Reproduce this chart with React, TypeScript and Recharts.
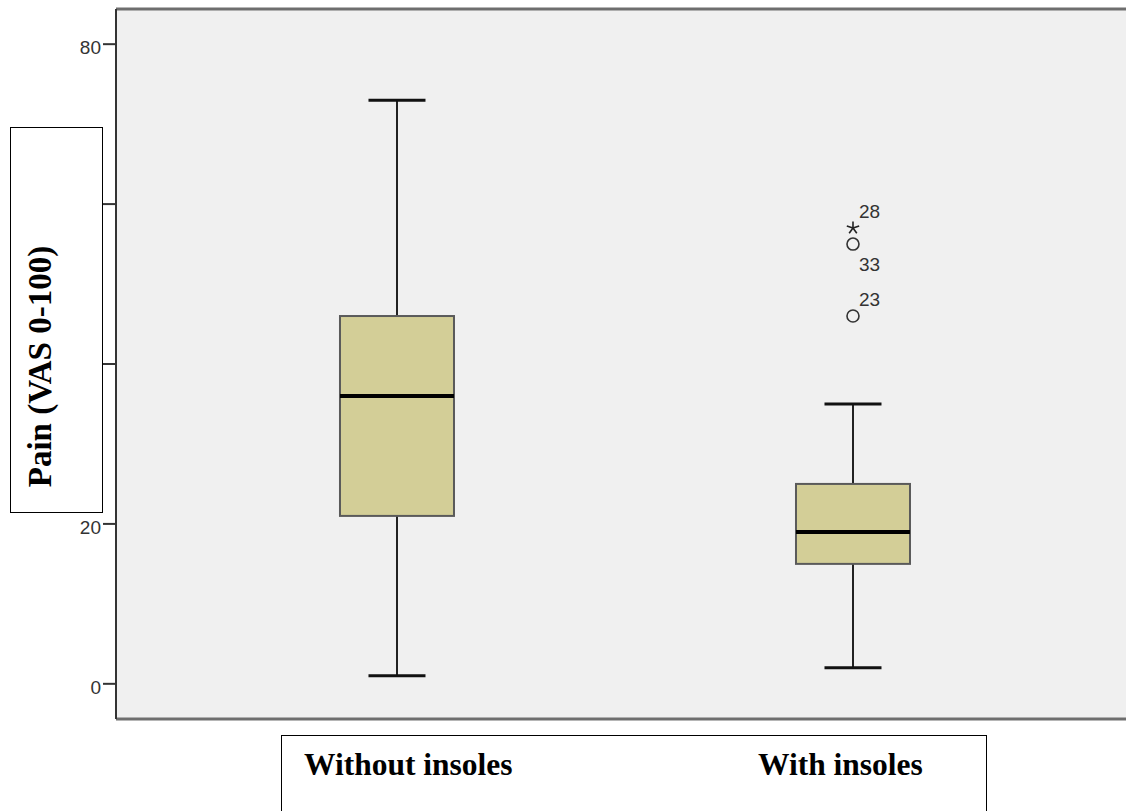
import { ComposedChart, Bar, Scatter, XAxis, YAxis, CartesianGrid } from "recharts";

// box plot data (Pain, VAS 0-100)
const categories = ["Without insoles", "With insoles"];
const whiskerLow = [1, 2];
const lowerQuartile = [21, 15];
const medianValues = [36, 19];
const upperQuartile = [46, 25];
const whiskerHigh = [73, 35];

// outliers, all in the "With insoles" group
const outlierGroup = [2, 2, 2];
const outlierValues = [57, 55, 46];
const outlierIds = ["28", "33", "23"];
const outlierKinds = ["extreme", "outlier", "outlier"];

const yTicks = [0, 20, 40, 60, 80];

const boxData = categories.map((name, i) => ({
  pos: i + 1,
  name,
  range: [whiskerLow[i], whiskerHigh[i]],
  low: whiskerLow[i],
  q1: lowerQuartile[i],
  med: medianValues[i],
  q3: upperQuartile[i],
  high: whiskerHigh[i],
}));

const outlierData = outlierValues.map((value, i) => ({
  pos: outlierGroup[i],
  value,
  id: outlierIds[i],
  kind: outlierKinds[i],
}));

const labelBelow = ["33"];
const sans = "'Liberation Sans', Arial, sans-serif";
const serif = "'Liberation Serif', 'Times New Roman', serif";

const BoxShape = (props: any) => {
  const { x, y, width, height, payload } = props;
  const top = Math.min(y, y + height);
  const h = Math.abs(height);
  const { low, q1, med, q3, high } = payload;
  const k = h / (high - low);
  const py = (v: number) => top + (high - v) * k;
  const cx = x + width / 2;
  const cap = width / 4;
  return (
    <g>
      <line x1={cx} x2={cx} y1={py(high)} y2={py(q3)} stroke="#222" strokeWidth={2} />
      <line x1={cx} x2={cx} y1={py(q1)} y2={py(low)} stroke="#222" strokeWidth={2} />
      <line x1={cx - cap} x2={cx + cap} y1={py(high)} y2={py(high)} stroke="#111" strokeWidth={3} />
      <line x1={cx - cap} x2={cx + cap} y1={py(low)} y2={py(low)} stroke="#111" strokeWidth={3} />
      <rect x={x} y={py(q3)} width={width} height={py(q1) - py(q3)} fill="#D3CE97" stroke="#5a5a5a" strokeWidth={2} />
      <line x1={x} x2={x + width} y1={py(med)} y2={py(med)} stroke="#000" strokeWidth={4} />
    </g>
  );
};

const OutlierShape = (props: any) => {
  const { cx, cy, payload } = props;
  const below = labelBelow.includes(payload.id);
  let mark;
  if (payload.kind === "extreme") {
    const spokes = [-90, -18, 54, 126, 198].map((a) => {
      const r = (a * Math.PI) / 180;
      return `M${cx},${cy}L${cx + 6.5 * Math.cos(r)},${cy + 6.5 * Math.sin(r)}`;
    });
    mark = <path d={spokes.join("")} stroke="#222" strokeWidth={1.6} fill="none" />;
  } else {
    mark = <circle cx={cx} cy={cy} r={6} stroke="#333" strokeWidth={1.6} fill="none" />;
  }
  return (
    <g>
      {mark}
      <text x={cx + 6} y={below ? cy + 27 : cy - 10} fontSize={19} fontFamily={sans} fill="#333">
        {payload.id}
      </text>
    </g>
  );
};

const YTick = (props: any) => {
  const { x, y, payload } = props;
  return (
    <text x={x} y={y + 10} textAnchor="end" fontSize={19} fontFamily={sans} fill="#333">
      {payload.value}
    </text>
  );
};

export default function App() {
  return (
    <div style={{ position: "absolute", left: 0, top: 0, width: 1126, height: 811, background: "#fff" }}>
      <ComposedChart width={1126} height={811} data={boxData} margin={{ top: 0, right: 0, bottom: 0, left: 0 }}>
        <CartesianGrid fill="#F0F0F0" horizontal={false} vertical={false} />
        <XAxis
          xAxisId="top"
          orientation="top"
          type="number"
          dataKey="pos"
          domain={[0.3838, 2.5987]}
          height={9}
          tick={false}
          tickLine={false}
          axisLine={{ stroke: "#6e6e6e", strokeWidth: 3 }}
        />
        <XAxis
          type="number"
          dataKey="pos"
          domain={[0.3838, 2.5987]}
          ticks={[1, 2]}
          allowDataOverflow
          height={92}
          tick={false}
          tickSize={12}
          tickLine={{ stroke: "#333", strokeWidth: 2 }}
          axisLine={{ stroke: "#6e6e6e", strokeWidth: 3 }}
        />
        <YAxis
          type="number"
          domain={[-4.4, 84.4]}
          ticks={yTicks}
          allowDataOverflow
          width={116}
          tickSize={13}
          tickMargin={2}
          tick={<YTick />}
          tickLine={{ stroke: "#333", strokeWidth: 2 }}
          axisLine={{ stroke: "#333", strokeWidth: 2 }}
        />
        <Bar dataKey="range" barSize={114} shape={<BoxShape />} isAnimationActive={false} />
        <Scatter data={outlierData} dataKey="value" shape={<OutlierShape />} isAnimationActive={false} />
      </ComposedChart>
      <svg width={1126} height={811} style={{ position: "absolute", left: 0, top: 0, pointerEvents: "none" }}>
        <rect x={10.5} y={127.5} width={92} height={385} fill="#fff" stroke="#000" strokeWidth={1} />
        <text
          transform="translate(51, 366.5) rotate(-90)"
          textAnchor="middle"
          fontFamily={serif}
          fontWeight="bold"
          fontSize={33}
          fill="#000"
        >
          Pain (VAS 0-100)
        </text>
        <rect x={281.5} y={735.5} width={705} height={100} fill="#fff" stroke="#000" strokeWidth={1} />
        <text x={304} y={775} fontFamily={serif} fontWeight="bold" fontSize={31.5} fill="#000">
          {categories[0]}
        </text>
        <text x={758} y={775} fontFamily={serif} fontWeight="bold" fontSize={31.5} fill="#000">
          {categories[1]}
        </text>
      </svg>
    </div>
  );
}
